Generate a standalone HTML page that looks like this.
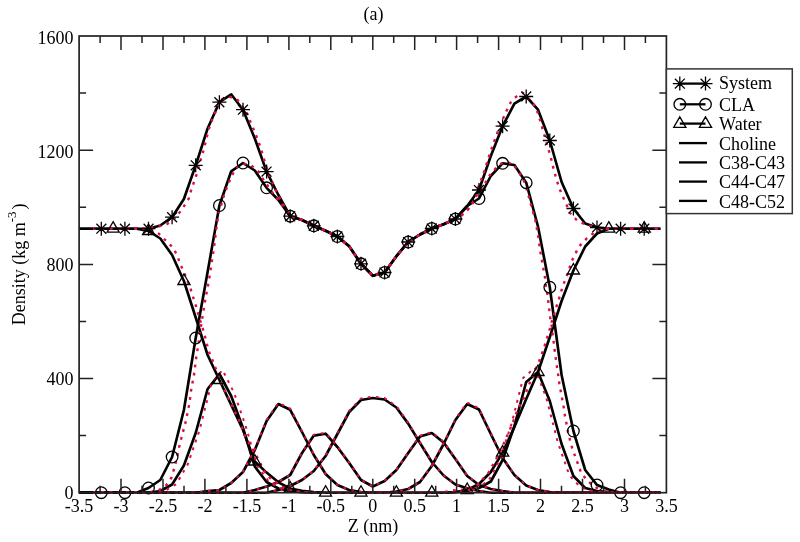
<!DOCTYPE html>
<html><head><meta charset="utf-8"><style>
html,body{margin:0;padding:0;background:#fff;width:800px;height:542px;overflow:hidden}
svg{display:block;font-family:"Liberation Serif",serif}
svg{will-change:transform}
</style></head><body>
<svg width="800" height="542" viewBox="0 0 800 542">
<rect width="800" height="542" fill="#fff"/>
<defs><clipPath id="cp"><rect x="79" y="35" width="589" height="459"/></clipPath></defs>
<g clip-path="url(#cp)" fill="none" stroke-linejoin="round">
<polyline points="79.1,228.7 89.5,228.7 101.3,228.7 113.1,228.7 124.9,228.7 136.7,228.7 148.5,228.7 160.3,225.5 172.1,217.2 183.9,199.0 195.7,165.3 207.6,128.5 219.4,102.2 231.2,94.3 243.0,109.7 254.8,138.5 266.6,171.6 278.4,195.0 290.2,216.2 302.0,220.0 313.8,225.8 325.6,230.8 337.4,236.5 349.2,246.2 361.0,263.8 372.8,275.8 384.6,272.5 396.4,256.2 408.2,242.0 420.0,234.5 431.8,228.5 443.6,224.2 455.4,219.0 467.2,206.0 479.0,190.0 490.8,156.0 502.6,126.2 514.4,103.7 526.2,96.5 538.0,109.7 549.8,140.5 561.6,182.0 573.4,208.5 585.2,223.5 597.0,227.5 608.8,228.7 620.6,228.7 632.4,228.7 644.2,228.7 656.0,228.7 660.4,228.7" stroke="#000" stroke-width="2.65"/>
<polyline points="79.1,492.7 89.5,492.7 101.3,492.7 113.1,492.7 124.9,492.7 136.7,492.7 148.5,488.0 160.3,480.0 172.1,457.0 183.9,410.0 195.7,338.0 207.6,272.0 219.4,205.5 231.2,171.3 243.0,163.0 254.8,170.5 266.6,187.8 278.4,200.0 290.2,216.2 302.0,220.0 313.8,225.8 325.6,230.8 337.4,236.5 349.2,246.2 361.0,263.8 372.8,275.8 384.6,272.5 396.4,256.2 408.2,242.0 420.0,234.5 431.8,228.5 443.6,224.2 455.4,219.0 467.2,206.0 479.0,198.5 490.8,176.0 502.6,163.3 514.4,165.0 526.2,182.7 538.0,226.5 549.8,287.2 561.6,375.0 573.4,431.0 585.2,470.0 597.0,485.0 608.8,489.5 620.6,492.7 632.4,492.7 644.2,492.7 656.0,492.7 660.4,492.7" stroke="#000" stroke-width="2.65"/>
<polyline points="79.1,228.7 89.5,228.7 101.3,228.7 113.1,228.7 124.9,228.7 136.7,228.7 148.5,231.0 160.3,238.5 172.1,255.0 183.9,281.0 195.7,317.5 207.6,355.0 219.4,380.0 231.2,405.0 243.0,430.0 254.8,461.5 266.6,472.6 278.4,482.3 290.2,488.5 302.0,490.8 313.8,492.0 325.6,492.7 337.4,492.7 349.2,492.7 361.0,492.7 372.8,492.7 384.6,492.7 396.4,492.7 408.2,492.7 420.0,492.7 431.8,492.7 443.6,492.7 455.4,492.0 467.2,490.0 479.0,484.0 490.8,472.0 502.6,452.6 514.4,427.0 526.2,399.0 538.0,372.0 549.8,337.0 561.6,301.0 573.4,270.5 585.2,246.5 597.0,233.5 608.8,228.7 620.6,228.7 632.4,228.7 644.2,228.7 656.0,228.7 660.4,228.7" stroke="#000" stroke-width="2.65"/>
<polyline points="79.1,492.7 89.5,492.7 101.3,492.7 113.1,492.7 124.9,492.7 136.7,492.7 148.5,492.7 160.3,491.0 172.1,484.5 183.9,465.5 195.7,433.0 207.6,389.0 219.4,374.0 231.2,396.0 243.0,428.0 254.8,466.5 266.6,482.0 278.4,488.5 290.2,491.0 302.0,492.3 313.8,492.7 325.6,492.7 337.4,492.7 349.2,492.7 361.0,492.7 372.8,492.7 384.6,492.7 396.4,492.7 408.2,492.7 420.0,492.7 431.8,492.7 443.6,492.7 455.4,492.3 467.2,491.0 479.0,488.0 490.8,481.5 502.6,460.0 514.4,426.0 526.2,382.0 538.0,372.0 549.8,401.0 561.6,444.0 573.4,476.0 585.2,488.0 597.0,491.0 608.8,492.0 620.6,492.7 632.4,492.7 644.2,492.7 656.0,492.7 660.4,492.7" stroke="#000" stroke-width="2.65"/>
<polyline points="79.1,492.7 89.5,492.7 101.3,492.7 113.1,492.7 124.9,492.7 136.7,492.7 148.5,492.7 160.3,492.7 172.1,492.7 183.9,492.7 195.7,492.7 207.6,491.0 219.4,490.0 231.2,483.0 243.0,472.0 254.8,450.0 266.6,421.0 278.4,404.0 290.2,409.8 302.0,432.0 313.8,455.0 325.6,474.0 337.4,485.0 349.2,490.0 361.0,492.0 372.8,492.7 384.6,492.7 396.4,491.5 408.2,489.0 420.0,482.0 431.8,466.0 443.6,444.0 455.4,420.0 467.2,404.0 479.0,409.5 490.8,434.0 502.6,458.0 514.4,475.0 526.2,485.5 538.0,490.0 549.8,492.0 561.6,492.7 573.4,492.7 585.2,492.7 597.0,492.7 608.8,492.7 620.6,492.7 632.4,492.7 644.2,492.7 656.0,492.7 660.4,492.7" stroke="#000" stroke-width="2.65"/>
<polyline points="79.1,492.7 89.5,492.7 101.3,492.7 113.1,492.7 124.9,492.7 136.7,492.7 148.5,492.7 160.3,492.7 172.1,492.7 183.9,492.7 195.7,492.7 207.6,492.7 219.4,492.7 231.2,492.7 243.0,492.7 254.8,490.0 266.6,486.5 278.4,482.0 290.2,475.0 302.0,453.0 313.8,435.6 325.6,433.7 337.4,447.0 349.2,463.0 361.0,480.0 372.8,486.5 384.6,481.0 396.4,470.0 408.2,453.0 420.0,436.5 431.8,433.0 443.6,442.5 455.4,459.0 467.2,476.0 479.0,485.0 490.8,489.0 502.6,491.0 514.4,492.7 526.2,492.7 538.0,492.7 549.8,492.7 561.6,492.7 573.4,492.7 585.2,492.7 597.0,492.7 608.8,492.7 620.6,492.7 632.4,492.7 644.2,492.7 656.0,492.7 660.4,492.7" stroke="#000" stroke-width="2.65"/>
<polyline points="79.1,492.7 89.5,492.7 101.3,492.7 113.1,492.7 124.9,492.7 136.7,492.7 148.5,492.7 160.3,492.7 172.1,492.7 183.9,492.7 195.7,492.7 207.6,492.7 219.4,492.7 231.2,492.7 243.0,492.7 254.8,492.7 266.6,492.7 278.4,490.0 290.2,486.0 302.0,480.0 313.8,471.0 325.6,456.0 337.4,434.0 349.2,412.0 361.0,400.0 372.8,398.0 384.6,399.5 396.4,407.5 408.2,423.6 420.0,443.0 431.8,462.0 443.6,475.5 455.4,484.5 467.2,488.2 479.0,491.0 490.8,492.7 502.6,492.7 514.4,492.7 526.2,492.7 538.0,492.7 549.8,492.7 561.6,492.7 573.4,492.7 585.2,492.7 597.0,492.7 608.8,492.7 620.6,492.7 632.4,492.7 644.2,492.7 656.0,492.7 660.4,492.7" stroke="#000" stroke-width="2.65"/>
<polyline points="93.2,228.6 135.2,228.6 143.3,228.6 150.7,227.9 158.8,226.4 166.9,224.2 175.8,217.6 182.4,208.7 188.7,198.7 191.0,190.7 193.9,182.1 196.7,174.0 200.1,161.8 202.5,154.0 204.7,145.7 206.7,137.5 208.8,129.2 210.7,123.7 213.7,115.7 217.5,107.5 222.0,99.2 228.0,96.2 237.0,99.2 247.5,114.2 250.7,122.5 254.2,130.7 257.2,138.2 260.2,146.5 262.7,154.7 265.2,163.2 267.6,171.6 271.2,179.4 274.8,188.4 278.4,195.6 282.0,202.8 286.8,210.0 290.2,216.2 302.0,220.0 313.8,225.8 325.6,230.8 337.4,236.5 349.2,246.2 361.0,263.8 372.8,275.8 384.6,272.5 396.4,256.2 408.2,242.0 420.0,234.5 431.8,228.5 443.6,224.2 455.4,219.0 459.5,217.2 466.9,210.5 471.3,205.4 474.3,200.2 478.2,187.2 481.2,179.7 484.2,171.5 486.8,163.3 490.2,152.5 493.2,144.2 496.2,136.0 499.2,127.7 503.0,118.7 506.7,110.5 510.5,102.7 514.2,98.2 522.5,92.5 530.0,100.0 536.0,107.5 538.7,115.7 541.2,124.0 543.5,132.2 548.0,148.0 550.5,156.2 552.5,164.7 554.7,173.0 557.0,181.2 559.7,189.2 563.0,197.0 566.7,205.2 569.7,212.7 577.6,221.0 586.2,224.7 595.0,227.5 605.0,228.6 660.4,228.6" stroke="#dc1040" stroke-width="2.4" stroke-dasharray="2.8 5.4"/>
<polyline points="93.2,492.7 140.0,492.7 151.5,491.8 159.0,490.0 166.5,485.0 171.5,477.5 175.2,465.0 179.0,447.5 182.8,432.5 185.2,423.8 188.1,410.0 189.6,401.9 190.6,393.8 191.8,385.7 193.6,377.6 194.7,369.5 195.7,361.4 196.9,353.1 198.8,341.8 201.5,322.5 203.2,312.5 205.2,300.0 209.0,280.0 211.5,263.8 214.0,247.5 216.0,231.2 218.4,213.6 220.8,206.4 224.4,193.8 228.0,184.8 231.0,177.0 235.2,169.8 238.8,165.6 244.8,163.8 251.4,165.6 258.0,171.0 262.8,178.8 268.8,187.2 273.6,194.4 278.4,200.4 282.0,204.6 286.8,210.0 290.2,216.2 302.0,220.0 313.8,225.8 325.6,230.8 337.4,236.5 349.2,246.2 361.0,263.8 372.8,275.8 384.6,272.5 396.4,256.2 408.2,242.0 420.0,234.5 431.8,228.5 443.6,224.2 455.4,219.0 459.5,217.2 466.9,210.5 471.3,205.4 474.3,200.2 477.2,194.3 484.6,184.7 488.3,176.6 492.0,172.9 498.5,164.7 504.5,162.5 512.0,163.2 518.0,170.7 523.2,179.0 526.2,187.2 528.5,195.5 530.7,203.7 533.0,212.0 535.2,219.5 536.7,227.7 538.2,236.2 539.3,244.5 540.5,252.7 542.0,261.0 543.5,269.2 545.0,277.5 545.7,285.0 547.2,293.2 548.3,301.5 549.2,309.2 550.2,317.5 551.7,325.7 552.5,334.0 553.7,342.2 554.7,350.5 555.8,358.7 557.0,367.0 558.2,375.0 559.3,383.2 560.8,391.5 562.3,399.7 563.8,407.7 565.0,416.2 566.5,423.7 568.0,432.0 570.0,440.0 572.2,448.2 575.2,456.5 578.2,464.7 581.2,473.0 587.2,480.5 594.0,486.5 603.0,491.0 615.0,492.7 660.4,492.7" stroke="#dc1040" stroke-width="2.4" stroke-dasharray="2.8 5.4"/>
<polyline points="93.2,228.6 143.3,228.6 151.5,230.0 159.0,233.8 165.2,240.0 172.8,247.5 177.0,255.0 180.2,263.8 184.0,272.5 190.2,287.5 192.8,296.2 196.0,306.2 198.5,315.0 201.0,323.0 204.0,332.5 207.1,344.8 209.4,353.1 212.9,361.2 216.0,369.2 218.8,378.1 222.3,385.7 226.4,394.0 230.6,402.3 234.0,410.0 238.2,418.3 241.7,426.5 244.4,434.8 249.0,443.0 253.5,450.8 258.7,459.9 262.5,468.0 266.4,474.7 272.9,480.6 279.3,484.4 285.8,489.0 295.0,491.3 310.0,492.7 440.0,492.7 440.0,492.7 452.0,490.5 464.6,489.5 476.4,486.0 488.3,473.0 500.1,452.0 511.9,425.0 516.2,413.2 520.0,405.0 524.5,396.7 527.5,388.5 531.0,380.0 536.0,368.5 539.0,361.7 542.0,353.5 544.7,345.7 546.8,338.5 549.5,330.2 551.7,322.0 554.3,314.2 556.7,305.8 559.7,296.5 562.2,288.0 565.2,279.7 568.2,272.2 571.2,262.5 575.0,254.2 579.5,246.0 587.0,238.2 594.5,232.5 602.0,228.7 660.4,228.6" stroke="#dc1040" stroke-width="2.4" stroke-dasharray="2.8 5.4"/>
<polyline points="93.2,492.7 95.2,492.7 106.8,492.7 118.3,492.7 129.9,492.7 141.5,492.7 153.0,492.7 164.6,490.9 176.2,484.2 187.7,464.5 199.3,430.9 210.9,385.4 222.4,369.8 234.0,392.6 245.6,425.7 257.1,465.6 268.7,481.6 280.3,488.4 291.8,490.9 303.4,492.3 315.0,492.7 326.5,492.7 338.1,492.7 349.6,492.7 361.2,492.7 372.8,492.7 384.3,492.7 395.9,492.7 407.5,492.7 419.0,492.7 430.6,492.7 442.2,492.7 453.7,492.3 465.3,490.9 476.9,487.8 488.4,481.1 500.0,458.9 511.6,423.7 523.1,378.1 534.7,367.8 546.3,397.8 557.8,442.3 569.4,475.4 581.0,487.8 592.5,490.9 604.1,492.0 615.7,492.7 627.2,492.7 638.8,492.7 650.4,492.7 660.4,492.7" stroke="#dc1040" stroke-width="2.0" stroke-dasharray="2.8 5.4"/>
<polyline points="93.2,492.7 101.3,492.7 113.1,492.7 124.9,492.7 136.7,492.7 148.5,492.7 160.3,492.7 172.1,492.7 183.9,492.7 195.7,492.7 207.6,491.0 219.4,490.0 231.2,482.9 243.0,471.7 254.8,449.4 266.6,419.9 278.4,402.7 290.2,408.6 302.0,431.1 313.8,454.4 325.6,473.7 337.4,484.9 349.2,490.0 361.0,492.0 372.8,492.7 384.6,492.7 396.4,491.5 408.2,488.9 420.0,481.8 431.8,465.6 443.6,443.3 455.4,418.9 467.2,402.7 479.0,408.3 490.8,433.1 502.6,457.5 514.4,474.7 526.2,485.4 538.0,490.0 549.8,492.0 561.6,492.7 573.4,492.7 585.2,492.7 597.0,492.7 608.8,492.7 620.6,492.7 632.4,492.7 644.2,492.7 656.0,492.7 660.4,492.7" stroke="#dc1040" stroke-width="2.0" stroke-dasharray="2.8 5.4"/>
<polyline points="93.2,492.7 101.3,492.7 113.1,492.7 124.9,492.7 136.7,492.7 148.5,492.7 160.3,492.7 172.1,492.7 183.9,492.7 195.7,492.7 207.6,492.7 219.4,492.7 231.2,492.7 243.0,492.7 254.8,490.0 266.6,486.4 278.4,481.8 290.2,474.7 302.0,452.4 313.8,434.7 325.6,432.8 337.4,446.3 349.2,462.6 361.0,479.8 372.8,486.4 384.6,480.8 396.4,469.7 408.2,452.4 420.0,435.7 431.8,432.1 443.6,441.7 455.4,458.5 467.2,475.7 479.0,484.9 490.8,488.9 502.6,491.0 514.4,492.7 526.2,492.7 538.0,492.7 549.8,492.7 561.6,492.7 573.4,492.7 585.2,492.7 597.0,492.7 608.8,492.7 620.6,492.7 632.4,492.7 644.2,492.7 656.0,492.7 660.4,492.7" stroke="#dc1040" stroke-width="2.0" stroke-dasharray="2.8 5.4"/>
<polyline points="93.2,492.7 101.3,492.7 113.1,492.7 124.9,492.7 136.7,492.7 148.5,492.7 160.3,492.7 172.1,492.7 183.9,492.7 195.7,492.7 207.6,492.7 219.4,492.7 231.2,492.7 243.0,492.7 254.8,492.7 266.6,492.7 278.4,490.0 290.2,485.9 302.0,479.8 313.8,470.7 325.6,455.4 337.4,433.1 349.2,410.8 361.0,398.6 372.8,396.6 384.6,398.1 396.4,406.2 408.2,422.6 420.0,442.3 431.8,461.5 443.6,475.2 455.4,484.4 467.2,488.1 479.0,491.0 490.8,492.7 502.6,492.7 514.4,492.7 526.2,492.7 538.0,492.7 549.8,492.7 561.6,492.7 573.4,492.7 585.2,492.7 597.0,492.7 608.8,492.7 620.6,492.7 632.4,492.7 644.2,492.7 656.0,492.7 660.4,492.7" stroke="#dc1040" stroke-width="2.0" stroke-dasharray="2.8 5.4"/>
</g>
<path d="M94.3,228.7h14M101.3,221.7v14M96.4,223.8l9.9,9.9M96.4,233.6l9.9,-9.9M117.9,228.7h14M124.9,221.7v14M120.0,223.8l9.9,9.9M120.0,233.6l9.9,-9.9M141.5,228.7h14M148.5,221.7v14M143.6,223.8l9.9,9.9M143.6,233.6l9.9,-9.9M165.1,217.2h14M172.1,210.2v14M167.2,212.3l9.9,9.9M167.2,222.1l9.9,-9.9M188.7,165.3h14M195.7,158.3v14M190.8,160.4l9.9,9.9M190.8,170.2l9.9,-9.9M212.4,102.2h14M219.4,95.2v14M214.4,97.3l9.9,9.9M214.4,107.1l9.9,-9.9M236.0,109.7h14M243.0,102.7v14M238.0,104.8l9.9,9.9M238.0,114.6l9.9,-9.9M259.6,171.6h14M266.6,164.6v14M261.6,166.7l9.9,9.9M261.6,176.5l9.9,-9.9M283.2,216.2h14M290.2,209.2v14M285.2,211.3l9.9,9.9M285.2,221.2l9.9,-9.9M306.8,225.8h14M313.8,218.8v14M308.8,220.8l9.9,9.9M308.8,230.7l9.9,-9.9M330.4,236.5h14M337.4,229.5v14M332.4,231.6l9.9,9.9M332.4,241.4l9.9,-9.9M354.0,263.8h14M361.0,256.8v14M356.0,258.8l9.9,9.9M356.0,268.7l9.9,-9.9M377.6,272.5h14M384.6,265.5v14M379.6,267.6l9.9,9.9M379.6,277.4l9.9,-9.9M401.2,242.0h14M408.2,235.0v14M403.2,237.1l9.9,9.9M403.2,246.9l9.9,-9.9M424.8,228.5h14M431.8,221.5v14M426.8,223.6l9.9,9.9M426.8,233.4l9.9,-9.9M448.4,219.0h14M455.4,212.0v14M450.4,214.1l9.9,9.9M450.4,223.9l9.9,-9.9M472.0,190.0h14M479.0,183.0v14M474.0,185.1l9.9,9.9M474.0,194.9l9.9,-9.9M495.6,126.2h14M502.6,119.2v14M497.7,121.3l9.9,9.9M497.7,131.2l9.9,-9.9M519.2,96.5h14M526.2,89.5v14M521.3,91.6l9.9,9.9M521.3,101.4l9.9,-9.9M542.8,140.5h14M549.8,133.5v14M544.9,135.6l9.9,9.9M544.9,145.4l9.9,-9.9M566.4,208.5h14M573.4,201.5v14M568.5,203.6l9.9,9.9M568.5,213.4l9.9,-9.9M590.0,227.5h14M597.0,220.5v14M592.1,222.6l9.9,9.9M592.1,232.4l9.9,-9.9M613.6,228.7h14M620.6,221.7v14M615.7,223.8l9.9,9.9M615.7,233.6l9.9,-9.9M637.2,228.7h14M644.2,221.7v14M639.3,223.8l9.9,9.9M639.3,233.6l9.9,-9.9" stroke="#000" stroke-width="1.3"/>
<g stroke="#000" stroke-width="1.3" fill="none"><circle cx="101.3" cy="492.7" r="5.8"/><circle cx="124.9" cy="492.7" r="5.8"/><circle cx="148.5" cy="488.0" r="5.8"/><circle cx="172.1" cy="457.0" r="5.8"/><circle cx="195.7" cy="338.0" r="5.8"/><circle cx="219.4" cy="205.5" r="5.8"/><circle cx="243.0" cy="163.0" r="5.8"/><circle cx="266.6" cy="187.8" r="5.8"/><circle cx="290.2" cy="216.2" r="5.8"/><circle cx="313.8" cy="225.8" r="5.8"/><circle cx="337.4" cy="236.5" r="5.8"/><circle cx="361.0" cy="263.8" r="5.8"/><circle cx="384.6" cy="272.5" r="5.8"/><circle cx="408.2" cy="242.0" r="5.8"/><circle cx="431.8" cy="228.5" r="5.8"/><circle cx="455.4" cy="219.0" r="5.8"/><circle cx="479.0" cy="198.5" r="5.8"/><circle cx="502.6" cy="163.3" r="5.8"/><circle cx="526.2" cy="182.7" r="5.8"/><circle cx="549.8" cy="287.2" r="5.8"/><circle cx="573.4" cy="431.0" r="5.8"/><circle cx="597.0" cy="485.0" r="5.8"/><circle cx="620.6" cy="492.7" r="5.8"/><circle cx="644.2" cy="492.7" r="5.8"/></g>
<path d="M113.1,221.7L119.2,232.2L107.1,232.2ZM148.5,224.0L154.6,234.5L142.5,234.5ZM183.9,274.0L190.0,284.5L177.9,284.5ZM219.4,373.0L225.4,383.5L213.3,383.5ZM254.8,454.5L260.8,465.0L248.7,465.0ZM290.2,481.5L296.2,492.0L284.1,492.0ZM325.6,485.7L331.6,496.2L319.5,496.2ZM361.0,485.7L367.0,496.2L354.9,496.2ZM396.4,485.7L402.4,496.2L390.3,496.2ZM431.8,485.7L437.9,496.2L425.7,496.2ZM467.2,483.0L473.3,493.5L461.1,493.5ZM502.6,445.6L508.7,456.1L496.5,456.1ZM538.0,365.0L544.1,375.5L531.9,375.5ZM573.4,263.5L579.5,274.0L567.4,274.0ZM608.8,221.7L614.9,232.2L602.8,232.2ZM644.2,221.7L650.3,232.2L638.2,232.2Z" stroke="#000" stroke-width="1.3" fill="none"/>
<rect x="79.1" y="36.0" width="587.3" height="456.7" fill="none" stroke="#222" stroke-width="1.7"/>
<path d="M100.1,492.7v-7M100.1,36.0v7M121.0,492.7v-14M121.0,36.0v14M142.0,492.7v-7M142.0,36.0v7M163.0,492.7v-14M163.0,36.0v14M184.0,492.7v-7M184.0,36.0v7M204.9,492.7v-14M204.9,36.0v14M225.9,492.7v-7M225.9,36.0v7M246.9,492.7v-14M246.9,36.0v14M267.9,492.7v-7M267.9,36.0v7M288.9,492.7v-14M288.9,36.0v14M309.8,492.7v-7M309.8,36.0v7M330.8,492.7v-14M330.8,36.0v14M351.8,492.7v-7M351.8,36.0v7M372.8,492.7v-14M372.8,36.0v14M393.7,492.7v-7M393.7,36.0v7M414.7,492.7v-14M414.7,36.0v14M435.7,492.7v-7M435.7,36.0v7M456.6,492.7v-14M456.6,36.0v14M477.6,492.7v-7M477.6,36.0v7M498.6,492.7v-14M498.6,36.0v14M519.6,492.7v-7M519.6,36.0v7M540.5,492.7v-14M540.5,36.0v14M561.5,492.7v-7M561.5,36.0v7M582.5,492.7v-14M582.5,36.0v14M603.5,492.7v-7M603.5,36.0v7M624.5,492.7v-14M624.5,36.0v14M645.4,492.7v-7M645.4,36.0v7M79.1,435.6h7M666.4,435.6h-7M79.1,378.5h14M666.4,378.5h-14M79.1,321.4h7M666.4,321.4h-7M79.1,264.4h14M666.4,264.4h-14M79.1,207.3h7M666.4,207.3h-7M79.1,150.2h14M666.4,150.2h-14M79.1,93.1h7M666.4,93.1h-7" stroke="#222" stroke-width="1.5"/>
<text x="79.1" y="511.5" text-anchor="middle" font-family="Liberation Serif, serif" font-size="18" fill="#000">-3.5</text>
<text x="121.0" y="511.5" text-anchor="middle" font-family="Liberation Serif, serif" font-size="18" fill="#000">-3</text>
<text x="163.0" y="511.5" text-anchor="middle" font-family="Liberation Serif, serif" font-size="18" fill="#000">-2.5</text>
<text x="204.9" y="511.5" text-anchor="middle" font-family="Liberation Serif, serif" font-size="18" fill="#000">-2</text>
<text x="246.9" y="511.5" text-anchor="middle" font-family="Liberation Serif, serif" font-size="18" fill="#000">-1.5</text>
<text x="288.9" y="511.5" text-anchor="middle" font-family="Liberation Serif, serif" font-size="18" fill="#000">-1</text>
<text x="330.8" y="511.5" text-anchor="middle" font-family="Liberation Serif, serif" font-size="18" fill="#000">-0.5</text>
<text x="372.8" y="511.5" text-anchor="middle" font-family="Liberation Serif, serif" font-size="18" fill="#000">0</text>
<text x="414.7" y="511.5" text-anchor="middle" font-family="Liberation Serif, serif" font-size="18" fill="#000">0.5</text>
<text x="456.6" y="511.5" text-anchor="middle" font-family="Liberation Serif, serif" font-size="18" fill="#000">1</text>
<text x="498.6" y="511.5" text-anchor="middle" font-family="Liberation Serif, serif" font-size="18" fill="#000">1.5</text>
<text x="540.5" y="511.5" text-anchor="middle" font-family="Liberation Serif, serif" font-size="18" fill="#000">2</text>
<text x="582.5" y="511.5" text-anchor="middle" font-family="Liberation Serif, serif" font-size="18" fill="#000">2.5</text>
<text x="624.5" y="511.5" text-anchor="middle" font-family="Liberation Serif, serif" font-size="18" fill="#000">3</text>
<text x="666.4" y="511.5" text-anchor="middle" font-family="Liberation Serif, serif" font-size="18" fill="#000">3.5</text>
<text x="73.6" y="499.0" text-anchor="end" font-family="Liberation Serif, serif" font-size="18" fill="#000">0</text>
<text x="73.6" y="385.2" text-anchor="end" font-family="Liberation Serif, serif" font-size="18" fill="#000">400</text>
<text x="73.6" y="271.4" text-anchor="end" font-family="Liberation Serif, serif" font-size="18" fill="#000">800</text>
<text x="73.6" y="157.5" text-anchor="end" font-family="Liberation Serif, serif" font-size="18" fill="#000">1200</text>
<text x="73.6" y="43.7" text-anchor="end" font-family="Liberation Serif, serif" font-size="18" fill="#000">1600</text>
<text x="373" y="531.5" text-anchor="middle" font-family="Liberation Serif, serif" font-size="18" fill="#000">Z (nm)</text>
<text x="373.5" y="19.5" text-anchor="middle" font-family="Liberation Serif, serif" font-size="18" fill="#000" font-size="16">(a)</text>
<text transform="translate(25.3,264.3) rotate(-90)" text-anchor="middle" font-family="Liberation Serif, serif" font-size="18" fill="#000">Density (kg m<tspan dy="-9.5" font-size="13">-3</tspan><tspan dy="9.5" dx="2">)</tspan></text>
<rect x="666.4" y="68.9" width="125.9" height="144.7" fill="#fff" stroke="#333" stroke-width="1.5"/>
<line x1="679.8" y1="83.6" x2="705.5" y2="83.6" stroke="#000" stroke-width="2.3"/>
<text x="719.1" y="89.0" font-family="Liberation Serif, serif" font-size="18" fill="#000">System</text>
<line x1="679.8" y1="104.3" x2="705.5" y2="104.3" stroke="#000" stroke-width="2.3"/>
<text x="719.1" y="111.0" font-family="Liberation Serif, serif" font-size="18" fill="#000">CLA</text>
<line x1="679.8" y1="123.6" x2="705.5" y2="123.6" stroke="#000" stroke-width="2.3"/>
<text x="719.1" y="130.3" font-family="Liberation Serif, serif" font-size="18" fill="#000">Water</text>
<line x1="679" y1="143.1" x2="707" y2="143.1" stroke="#000" stroke-width="2.3"/>
<text x="719.1" y="149.8" font-family="Liberation Serif, serif" font-size="18" fill="#000">Choline</text>
<line x1="679" y1="162.4" x2="707" y2="162.4" stroke="#000" stroke-width="2.3"/>
<text x="719.1" y="169.1" font-family="Liberation Serif, serif" font-size="18" fill="#000">C38-C43</text>
<line x1="679" y1="181.6" x2="707" y2="181.6" stroke="#000" stroke-width="2.3"/>
<text x="719.1" y="188.3" font-family="Liberation Serif, serif" font-size="18" fill="#000">C44-C47</text>
<line x1="679" y1="200.9" x2="707" y2="200.9" stroke="#000" stroke-width="2.3"/>
<text x="719.1" y="207.6" font-family="Liberation Serif, serif" font-size="18" fill="#000">C48-C52</text>
<path d="M672.8,83.6h14M679.8,76.6v14M674.9,78.7l9.9,9.9M674.9,88.5l9.9,-9.9M698.5,83.6h14M705.5,76.6v14M700.6,78.7l9.9,9.9M700.6,88.5l9.9,-9.9" stroke="#000" stroke-width="1.3"/>
<circle cx="679.8" cy="104.3" r="5.8" fill="none" stroke="#000" stroke-width="1.3"/><circle cx="705.5" cy="104.3" r="5.8" fill="none" stroke="#000" stroke-width="1.3"/>
<path d="M679.8,116.8L685.9,127.3L673.7,127.3ZM705.5,116.8L711.6,127.3L699.4,127.3Z" fill="none" stroke="#000" stroke-width="1.3"/>
</svg>
</body></html>
